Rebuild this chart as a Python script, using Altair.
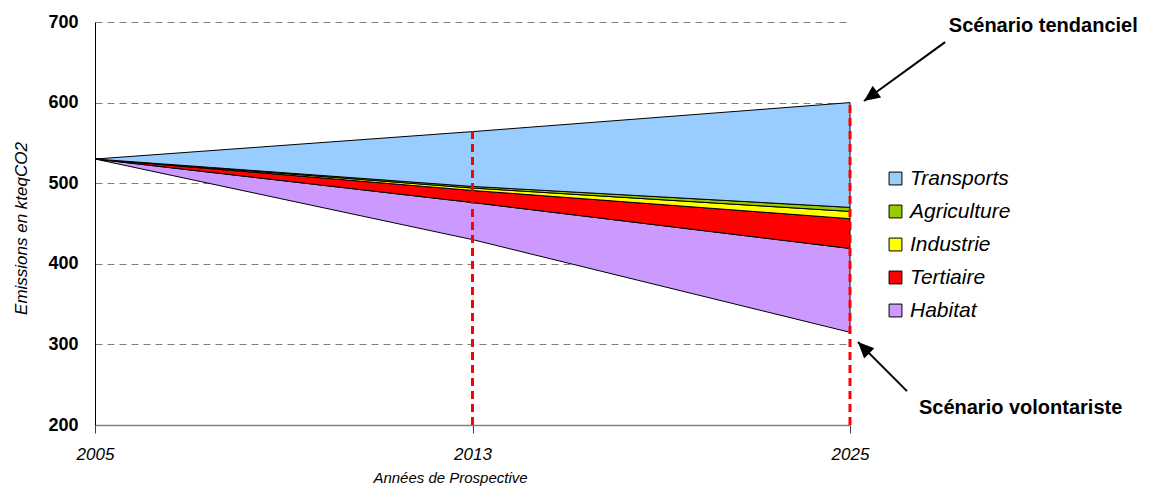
import json
import altair as alt
import pandas as pd

# ---- data ----
years = ["2005", "2013", "2025"]
base_volontariste = [530, 430, 315]          # bottom line (scénario volontariste)
series_names = ["Habitat", "Tertiaire", "Industrie", "Agriculture", "Transports"]
habitat = [0, 46, 104]
tertiaire = [0, 15, 37]
industrie = [0, 3, 9]
agriculture = [0, 2, 5]
transports = [0, 68, 130]
colors = {"Transports": "#99CCFF", "Agriculture": "#99CC00", "Industrie": "#FFFF00",
          "Tertiaire": "#FF0000", "Habitat": "#CC99FF"}
legend_order = ["Transports", "Agriculture", "Industrie", "Tertiaire", "Habitat"]
y_ticks = [200, 300, 400, 500, 600, 700]

# annotations (x in category-index units, y in data units)
ann_text = ["Scénario tendanciel", "Scénario volontariste"]
ann_tx = [2.512, 2.452]
ann_ty = [695, 221]
arrow_x1 = [2.252, 2.151]
arrow_y1 = [675, 242]
arrow_x2 = [2.037, 2.021]
arrow_y2 = [602, 303]
arrow_angle = [234, 315]

# ---- build tables ----
vals = {"Habitat": habitat, "Tertiaire": tertiaire, "Industrie": industrie,
        "Agriculture": agriculture, "Transports": transports}
rows = []
for i, yr in enumerate(years):
    lo = base_volontariste[i]
    for s in series_names:
        hi = lo + vals[s][i]
        rows.append({"idx": i, "year": yr, "series": s, "lo": lo, "hi": hi})
        lo = hi
df_area = pd.DataFrame(rows)

tops = df_area[df_area.series == "Transports"].set_index("idx")["hi"]
df_rules = pd.DataFrame({"idx": [1, 2], "lo": [y_ticks[0]] * 2, "hi": [tops[1], tops[2]]})

df_ann = pd.DataFrame({"text": ann_text, "tx": ann_tx, "ty": ann_ty,
                       "x1": arrow_x1, "y1": arrow_y1, "x2": arrow_x2, "y2": arrow_y2,
                       "angle": arrow_angle})

FONT = "Liberation Sans"
label_expr = json.dumps(years) + "[datum.value]"

xscale = alt.Scale(domain=[0, 2], nice=False, zero=False)
yscale = alt.Scale(domain=[200, 700], nice=False, zero=False)

x_axis = alt.Axis(values=[0, 1, 2], labelExpr=label_expr, title="Années de Prospective",
                  grid=False, domainColor="#808080", domainWidth=1.5,
                  tickColor="#404040", tickSize=8, tickWidth=1,
                  labelFont=FONT, labelFontSize=17, labelFontStyle="italic", labelColor="black",
                  labelPadding=13, labelFlush=False,
                  titleFont=FONT, titleFontSize=15, titleFontStyle="italic", titleFontWeight="normal",
                  titleColor="black", titleX=355, titleY=52, titleBaseline="middle")
y_axis = alt.Axis(values=y_ticks, title="Emissions en kteqCO2", ticks=False,
                  grid=True, gridColor="#808080", gridDash=[7, 5], gridWidth=1.2,
                  domainColor="black", domainWidth=1,
                  labelFont=FONT, labelFontSize=18, labelFontWeight="bold", labelColor="black",
                  labelPadding=17,
                  titleFont=FONT, titleFontSize=17, titleFontStyle="italic", titleFontWeight="normal",
                  titleColor="black", titleX=-74, titleY=206, titleAngle=270,
                  titleAlign="center", titleBaseline="middle")

areas = alt.Chart(df_area).mark_area(stroke="black", strokeWidth=1, opacity=1).encode(
    x=alt.X("idx:Q", scale=xscale, axis=x_axis),
    y=alt.Y("lo:Q", scale=yscale, axis=y_axis),
    y2="hi:Q",
    color=alt.Color("series:N",
                    scale=alt.Scale(domain=legend_order, range=[colors[s] for s in legend_order]),
                    legend=alt.Legend(title=None, orient="none", legendX=790, legendY=146,
                                      symbolType="square", symbolSize=165,
                                      symbolStrokeColor="black", symbolStrokeWidth=1,
                                      symbolOpacity=1,
                                      labelFont=FONT, labelFontSize=21, labelFontStyle="italic",
                                      labelColor="black", labelOffset=4, rowPadding=11)),
    detail="series:N",
)

rules = alt.Chart(df_rules).mark_rule(color="#FF0000", strokeWidth=3, strokeDash=[8, 5]).encode(
    x="idx:Q", y="lo:Q", y2="hi:Q")

arrow_lines = alt.Chart(df_ann).mark_rule(color="black", strokeWidth=2).encode(
    x="x1:Q", y="y1:Q", x2="x2:Q", y2="y2:Q")

arrow_heads = alt.Chart(df_ann).mark_point(
    shape="M0,0L0.45,1L-0.45,1Z", filled=True, color="black", opacity=1, size=1024
).encode(x="x2:Q", y="y2:Q", angle=alt.Angle("angle:Q", scale=None))

texts = alt.Chart(df_ann).mark_text(
    font=FONT, fontSize=20, fontWeight="bold", color="black", align="center", baseline="middle"
).encode(x="tx:Q", y="ty:Q", text="text:N")

chart = alt.layer(areas, rules, arrow_lines, arrow_heads, texts).properties(
    width=755, height=403,
    autosize=alt.AutoSizeParams(type="none"),
    padding={"left": 87, "top": 14, "right": 292, "bottom": 63},
    background="white",
).configure_view(stroke=None)

chart.save("out.html", embed_options={"renderer": "svg", "actions": False})
